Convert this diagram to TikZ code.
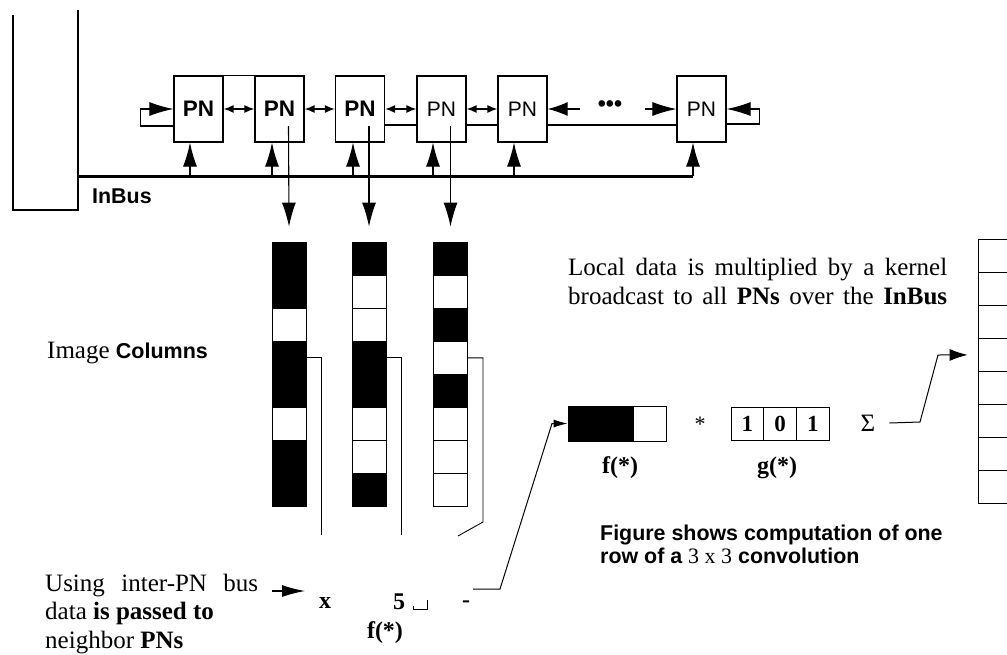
\documentclass[tikz,border=0pt]{standalone}
\usepackage{fontspec}
\setmainfont{Liberation Serif}
\setsansfont{Liberation Sans}
\usetikzlibrary{arrows.meta}

\begin{document}
\begin{tikzpicture}[x=1pt, y=-1pt,
  pn/.style={draw, line width=1.2pt, minimum width=49pt, minimum height=66pt, inner sep=0pt, font=\sffamily\fontsize{21}{21}\selectfont},
  pnb/.style={pn, font=\sffamily\bfseries\fontsize{22.5}{22.5}\selectfont},
  big/.style={-{Latex[length=24pt,width=14pt]}, line width=1.1pt},
  dbl/.style={{Latex[length=10pt,width=8pt]}-{Latex[length=10pt,width=8pt]}, line width=1.4pt},
  cell/.style={draw, line width=0.8pt, minimum width=34pt, minimum height=33.1pt, inner sep=0pt},
  bit1/.style={fill=black}, bit0/.style={fill=white},
  txt/.style={inner sep=0pt, anchor=base west, align=left, font=\fontsize{25}{28.5}\selectfont},
  hd/.style={inner sep=0pt, anchor=base west, align=left, font=\sffamily\bfseries\fontsize{21.4}{23}\selectfont},
  lbl/.style={inner sep=0pt, anchor=base, font=\bfseries\fontsize{24}{24}\selectfont}]

  \useasboundingbox (0,0) rectangle (1007,654);

  % memory frame and InBus
  \draw[line width=1.7pt] (13,15) -- (13,210) -- (79,210);
  \draw[line width=1.7pt] (78,10) -- (78,210);
  \coordinate (busL) at (78,176);
  \draw[line width=3pt] (busL) -- (693,176);
  \node[hd] (inbus) at (92,203) {InBus};

  % processing nodes
  \foreach \i/\x/\s in {1/198.5/pnb, 2/279.5/pnb, 3/360/pnb, 4/441.5/pn, 5/522.5/pn, 6/701.5/pn}
    \node[\s] (pn\i) at (\x,109) {PN};
  \node[inner sep=0pt, font=\sffamily\bfseries\fontsize{23}{23}\selectfont] (dots) at (610,106) {\textbullet\textbullet\textbullet};

  \draw[line width=1.2pt] (pn1.north east) -- (pn2.north west);
  \foreach \a/\b in {1/2, 2/3, 3/4, 4/5}
    \draw[dbl] (pn\a) -- (pn\b);
  \foreach \a/\b in {3/4, 4/5, 5/6}
    \draw[line width=1.2pt] ([yshift=-16pt]pn\a.east) -- ([yshift=-16pt]pn\b.west);

  \draw[big] ([yshift=-17pt]pn1.west) -- ++(-33,0) |- (pn1.west);
  \draw[big] ([yshift=-15pt]pn6.east) -- ++(33,0) |- (pn6.east);
  \coordinate (gl) at (580,109);
  \coordinate (gr) at (645,109);
  \draw[-{Latex[length=20pt,width=14pt]}, line width=1.1pt] (gl) -- (pn5.east);
  \draw[big] (gr) -- (pn6.west);

  \foreach \i/\x in {1/190, 2/272, 3/353, 4/433, 5/514, 6/693} {
    \coordinate (tap\i) at (\x,176);
    \draw[big] (tap\i) -- (tap\i |- pn\i.south);
  }

  % image columns
  \foreach \c/\x/\pat in {1/289/{1,1,0,1,1,0,1,1}, 2/369/{1,0,0,1,1,0,0,1}, 3/450.5/{1,0,1,0,1,0,0,0}}
    \foreach \b [count=\k] in \pat
      \node[cell, bit\b] (c\c-\k) at (\x, 225.45+33.1*\k) {};
  \foreach \i/\c in {2/1, 3/2, 4/3}
    \draw[big] ([xshift=9pt,yshift=-17pt]pn\i.center) -- ([yshift=15pt]c\c-1.north);

  \coordinate (e1) at (321,535);
  \coordinate (e2) at (401,535);
  \coordinate (e3) at (483,522);
  \coordinate (e4) at (458,536);
  \draw[line width=0.9pt] (c1-4.east) -| (e1);
  \draw[line width=0.9pt] (c2-4.east) -| (e2);
  \draw[line width=0.9pt] (c3-4.east) -| (e3) -- (e4);

  \node[txt] (imgcol) at (47,358) {Image {\sffamily\bfseries\fontsize{21.5}{21.5}\selectfont Columns}};

  % bottom row
  \node[txt] (using) at (45,648) {\makebox[213pt][s]{Using inter-PN bus}\\data \textbf{is passed to}\\neighbor \textbf{PNs}};
  \node[lbl] (xsym) at (325,608) {x};
  \node[lbl] (five) at (399,609) {5};
  \draw[line width=1pt] (413,606) -- (413,609) -- (427,609) -- (427,600);
  \node[lbl] (dash) at (466,607.5) {-};
  \node[lbl] (fbot) at (385,638) {f(*)};
  \coordinate (ua) at (272,591);
  \coordinate (ub) at (305,591);
  \draw[-{Latex[length=23pt,width=12pt]}, line width=1.1pt] (ua) -- (ub);

  % one row of the convolution
  \node[txt] (local) at (568,304) {\makebox[379pt][s]{Local data is multiplied by a kernel}\\\makebox[379pt][s]{broadcast to all \textbf{PNs} over the \textbf{InBus}}};
  \foreach \i/\b in {1/1, 2/1, 3/0}
    \node[cell, bit\b, minimum width=32.7pt, minimum height=35pt] (f\i) at (551.65+32.7*\i, 423.5) {};
  \node[lbl] (flbl) at (620,473) {f(*)};
  \node[inner sep=0pt, font=\fontsize{22}{22}\selectfont] (star) at (700,424) {*};
  \foreach \i/\d in {1/1, 2/0, 3/1}
    \node[cell, minimum width=32.7pt, minimum height=33pt, font=\bfseries\fontsize{23}{23}\selectfont] (g\i) at (714.65+32.7*\i, 423.5) {\d};
  \node[lbl] (glbl) at (777,473) {g(*)};
  \node[inner sep=0pt, font=\fontsize{25}{25}\selectfont] (sigma) at (868,423) {Σ};

  \begin{scope}
    \clip (0,0) rectangle (1007,654);
    \foreach \k in {1,...,8}
      \node[cell] (r\k) at (995, 222.45+33.1*\k) {};
  \end{scope}

  \coordinate (fa) at (473,589);
  \coordinate (fb) at (500,589);
  \coordinate (fc) at (552,423.5);
  \draw[-{Latex[length=14pt,width=8pt]}, line width=1pt] (fa) -- (fb) -- (fc) -- (f1.west);
  \coordinate (s1) at (920,422);
  \coordinate (s2) at (938,355);
  \draw[-{Latex[length=18pt,width=12pt]}, line width=1pt, shorten >=10pt] ([xshift=14pt]sigma.east) -- (s1) -- (s2) -- (r4.west);

  \node[hd] (note) at (600,563) {Figure shows computation of one\\row of a {\mdseries\rmfamily\fontsize{22}{22}\selectfont 3 x 3} convolution};
\end{tikzpicture}
\end{document}
